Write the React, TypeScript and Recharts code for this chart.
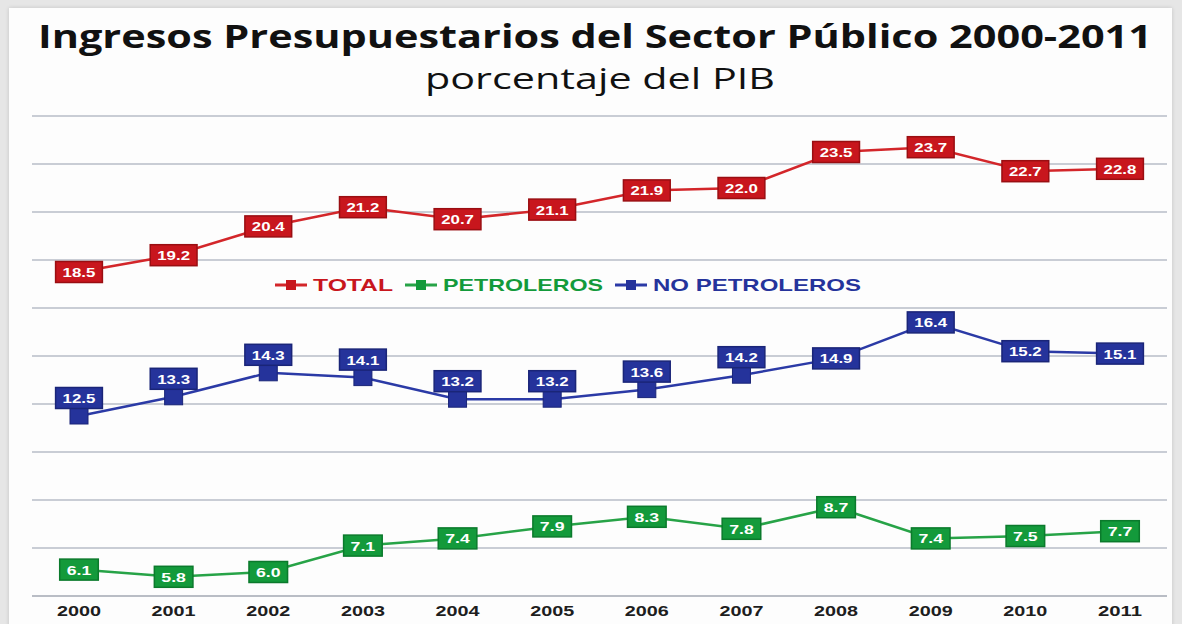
import React from 'react';
import { LineChart, Line, XAxis, YAxis, CartesianGrid } from 'recharts';

const years = ['2000', '2001', '2002', '2003', '2004', '2005', '2006', '2007', '2008', '2009', '2010', '2011'];
const total = [18.5, 19.2, 20.4, 21.2, 20.7, 21.1, 21.9, 22.0, 23.5, 23.7, 22.7, 22.8];
const petroleros = [6.1, 5.8, 6.0, 7.1, 7.4, 7.9, 8.3, 7.8, 8.7, 7.4, 7.5, 7.7];
const noPetroleros = [12.5, 13.3, 14.3, 14.1, 13.2, 13.2, 13.6, 14.2, 14.9, 16.4, 15.2, 15.1];
const yTicks = [5, 7, 9, 11, 13, 15, 17, 19, 21, 23, 25];

const series = [
  { key: 'total', name: 'TOTAL', line: '#d3262a', fill: '#c8161d', border: '#9a0e12' },
  { key: 'petroleros', name: 'PETROLEROS', line: '#27a347', fill: '#139a3b', border: '#0b7a2c' },
  { key: 'noPetroleros', name: 'NO PETROLEROS', line: '#2b3aa6', fill: '#25339b', border: '#1a2578' },
];

const data = years.map((year, i) => ({
  year,
  total: total[i],
  petroleros: petroleros[i],
  noPetroleros: noPetroleros[i],
}));

const FONT = '"Liberation Sans", Arial, sans-serif';

const makeDot = (color: string, border: string) => (props: any) => {
  const { cx, cy, index } = props;
  if (cx == null || cy == null) return <g key={index} />;
  return <rect key={index} x={cx - 9} y={cy - 8} width={18} height={16} fill={color} stroke={border} strokeWidth={1} />;
};

// blue labels sit above the marker for the early years, centred afterwards
const makeLabel = (fill: string, border: string, raiseUntil: number) => (props: any) => {
  const { x, y, value, index } = props;
  if (x == null || y == null) return null;
  const text = Number(value).toFixed(1);
  const tw = text.length * 8.2;
  const w = tw + 14;
  const h = 21;
  const cy = index < raiseUntil ? y - 18 : y;
  return (
    <g key={index}>
      <rect x={x - w / 2} y={cy - h / 2} width={w} height={h} fill={fill} stroke={border} strokeWidth={1.5} />
      <text
        x={x}
        y={cy + 5}
        textAnchor="middle"
        fill="#fff"
        fontFamily={FONT}
        fontWeight="bold"
        fontSize={13}
        textLength={tw}
        lengthAdjust="spacingAndGlyphs"
      >
        {text}
      </text>
    </g>
  );
};

const YearTick = (props: any) => {
  const { x, y, payload } = props;
  return (
    <text
      x={x}
      y={y + 12}
      textAnchor="middle"
      fill="#1e1e1e"
      fontFamily={FONT}
      fontWeight="bold"
      fontSize={15}
      textLength={44}
      lengthAdjust="spacingAndGlyphs"
    >
      {payload.value}
    </text>
  );
};

const LegendRow = () => {
  let cursor = 0;
  const items = series.map((s) => {
    const tw = s.name.length * 16;
    const start = cursor;
    cursor += 34 + 4 + tw + 12;
    return (
      <g key={s.key} transform={`translate(${start},0)`}>
        <line x1={0} y1={12} x2={32} y2={12} stroke={s.line} strokeWidth={3} />
        <rect x={11} y={7} width={10} height={10} fill={s.fill} />
        <text
          x={38}
          y={18}
          fill={s.fill}
          fontFamily={FONT}
          fontWeight="bold"
          fontSize={17}
          textLength={tw}
          lengthAdjust="spacingAndGlyphs"
        >
          {s.name}
        </text>
      </g>
    );
  });
  return (
    <svg style={{ position: 'absolute', left: 275, top: 273 }} width={620} height={24}>
      {items}
    </svg>
  );
};

export default function App() {
  return (
    <div style={{ position: 'absolute', left: 0, top: 0, width: 1182, height: 624, background: '#e6e6e6', overflow: 'hidden' }}>
      <div style={{ position: 'absolute', left: 9, top: 8, width: 1163, height: 640, background: '#fdfdfd', boxShadow: '0 0 4px rgba(0,0,0,0.15)' }} />
      <svg style={{ position: 'absolute', left: 0, top: 0 }} width={1182} height={100}>
        <text
          x={38}
          y={48}
          fill="#111"
          fontFamily='"Open Sans", sans-serif'
          fontWeight="bold"
          fontSize={32}
          textLength={1114}
          lengthAdjust="spacingAndGlyphs"
        >
          Ingresos Presupuestarios del Sector Público 2000-2011
        </text>
        <text
          x={425}
          y={89}
          fill="#111"
          fontFamily='"Open Sans", sans-serif'
          fontSize={29}
          textLength={350}
          lengthAdjust="spacingAndGlyphs"
        >
          porcentaje del PIB
        </text>
      </svg>
      <div style={{ position: 'absolute', left: 0, top: 0 }}>
        <LineChart width={1182} height={624} data={data} margin={{ top: 116, right: 15, left: 32, bottom: 0 }}>
          <CartesianGrid horizontal vertical={false} stroke="#c9cdd5" strokeWidth={2} />
          <XAxis
            dataKey="year"
            height={28}
            padding={{ left: 47, right: 47 }}
            axisLine={{ stroke: '#b9bdc5', strokeWidth: 2 }}
            tickLine={false}
            tick={<YearTick />}
            interval={0}
          />
          <YAxis hide domain={[5, 25]} ticks={yTicks} />
          {series.map((s) => (
            <Line
              key={s.key}
              dataKey={s.key}
              name={s.name}
              type="linear"
              stroke={s.line}
              strokeWidth={2.5}
              dot={makeDot(s.fill, s.border)}
              activeDot={false}
              label={makeLabel(s.fill, s.border, s.key === 'noPetroleros' ? 8 : 0)}
              isAnimationActive={false}
            />
          ))}
        </LineChart>
      </div>
      <LegendRow />
    </div>
  );
}
